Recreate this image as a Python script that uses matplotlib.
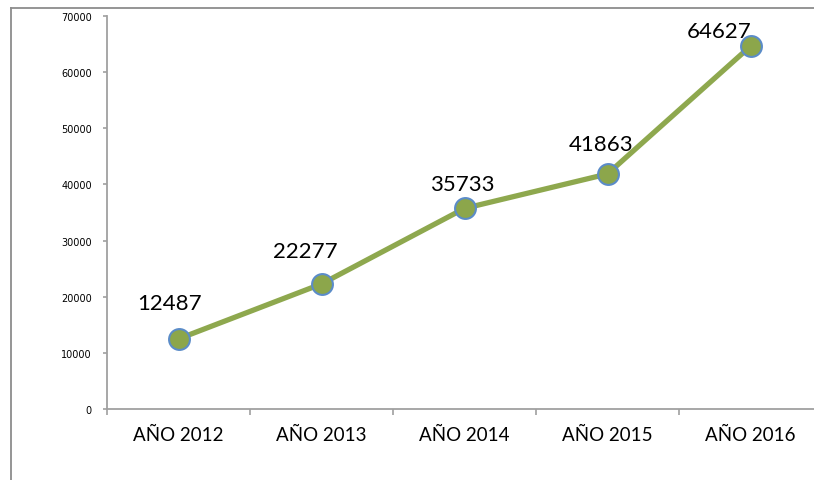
import matplotlib.pyplot as plt
from matplotlib.lines import Line2D

categorias = ['AÑO 2012', 'AÑO 2013', 'AÑO 2014', 'AÑO 2015', 'AÑO 2016']
valores = [12487, 22277, 35733, 41863, 64627]
# desplazamiento de las etiquetas (px) respecto al punto
desp_etiquetas = [(-9, 36), (-16, 33), (-2, 24), (-6, 30), (-31, 15)]

fig = plt.figure(figsize=(8.14, 4.81), dpi=100)
ax = fig.add_axes([107 / 814, 71 / 481, 715 / 814, 393 / 481])

x = [i + 0.5 for i in range(len(valores))]
ax.plot(x, valores, color='#8EA84E', linewidth=3.8, marker='o', markersize=15,
        markerfacecolor='#8CA64B', markeredgecolor='#5B8CC8', markeredgewidth=1.5,
        solid_capstyle='round', zorder=3, clip_on=False)

for xi, v, (dx, dy) in zip(x, valores, desp_etiquetas):
    ax.annotate(str(v), (xi, v), xytext=(dx * 0.72, dy * 0.72), textcoords='offset points',
                ha='center', va='center', fontsize=16, family='Lato', color='black')

ax.set_xlim(0, 5)
ax.set_ylim(0, 70000)
ax.set_yticks(range(0, 70001, 10000))
ax.set_yticklabels([str(v) for v in range(0, 70001, 10000)], fontsize=7, family='DejaVu Sans')
ax.set_xticks(range(0, 6))
ax.set_xticklabels([])
ax.set_xticks(x, minor=True)
ax.set_xticklabels(categorias, minor=True, fontsize=13.5, family='Lato')

ax.tick_params(axis='x', which='major', direction='out', length=4, width=1.2, color='#A0A0A0')
ax.tick_params(axis='x', which='minor', length=0, pad=12)
ax.tick_params(axis='y', direction='out', length=3, width=1.2, color='#A0A0A0', pad=8)

for lado in ['top', 'right']:
    ax.spines[lado].set_visible(False)
for lado in ['left', 'bottom']:
    ax.spines[lado].set_color('#A0A0A0')
    ax.spines[lado].set_linewidth(1.3)

# marco del area del grafico
fig.add_artist(Line2D([11 / 814, 11 / 814], [0, 1 - 9 / 481], color='#8C8C8C', linewidth=1.3))
fig.add_artist(Line2D([11 / 814, 1], [1 - 9 / 481, 1 - 9 / 481], color='#8C8C8C', linewidth=1.3))

fig.savefig('out.png', dpi=100)
